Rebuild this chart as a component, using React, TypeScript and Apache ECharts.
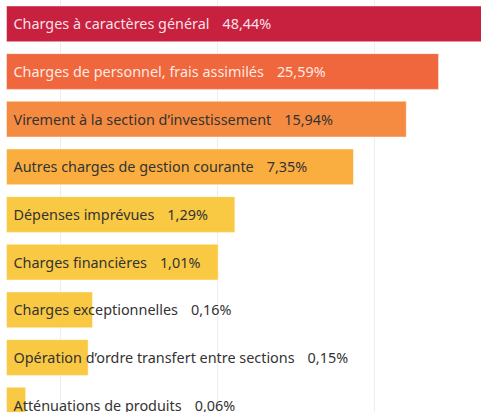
import React, { useEffect, useRef } from "react";
import * as echarts from "echarts";

const categories = [
  "Charges à caractères général",
  "Charges de personnel, frais assimilés",
  "Virement à la section d’investissement",
  "Autres charges de gestion courante",
  "Dépenses imprévues",
  "Charges financières",
  "Charges exceptionnelles",
  "Opération d’ordre transfert entre sections",
  "Atténuations de produits",
];
const values = [48.44, 25.59, 15.94, 7.35, 1.29, 1.01, 0.16, 0.15, 0.06];
const barColors = [
  "#C8213F",
  "#F1673D",
  "#F58B41",
  "#FAAE40",
  "#FAC943",
  "#FAC943",
  "#FAC943",
  "#FAC943",
  "#FAC943",
];
const textColors = [
  "rgba(255,255,255,0.88)",
  "rgba(255,255,255,0.88)",
  "#333333",
  "#333333",
  "#333333",
  "#333333",
  "#333333",
  "#333333",
  "#333333",
];

const AXIS_MIN = 0.0453;
const AXIS_MAX = 50;

const fmt = (v: number) => v.toFixed(2).replace(".", ",") + "%";

export default function App() {
  const ref = useRef<HTMLDivElement>(null);
  useEffect(() => {
    if (!ref.current) return;
    const chart = echarts.init(ref.current, null, { renderer: "svg" });
    chart.setOption({
      animation: false,
      grid: {
        left: 6.5,
        top: 0,
        width: 477.7,
        height: 429,
        containLabel: false,
        outerBoundsMode: "none",
      },
      xAxis: {
        type: "log",
        logBase: 10,
        min: AXIS_MIN,
        max: AXIS_MAX,
        axisLabel: { show: false },
        axisLine: { show: false },
        axisTick: { show: false },
        splitLine: {
          show: true,
          showMinLine: false,
          showMaxLine: false,
          lineStyle: { color: "#EDEDED", width: 1 },
        },
      },
      yAxis: {
        type: "category",
        data: categories,
        inverse: true,
        show: false,
      },
      series: [
        {
          type: "custom",
          clip: false,
          encode: { x: 0, y: 1 },
          data: values.map((v, i) => [v, i]),
          renderItem: (params: any, api: any) => {
            const idx = params.dataIndex;
            const v = api.value(0);
            const c = api.value(1);
            const start = api.coord([AXIS_MIN, c]);
            const end = api.coord([v, c]);
            const h = api.size([0, 1])[1] * 0.75;
            return {
              type: "group",
              children: [
                {
                  type: "rect",
                  shape: {
                    x: start[0],
                    y: start[1] - h / 2,
                    width: end[0] - start[0],
                    height: h,
                  },
                  style: {
                    fill: barColors[idx],
                    stroke: "rgba(255,255,255,0.45)",
                    lineWidth: 1,
                  },
                },
                {
                  type: "text",
                  x: start[0] + 7,
                  y: start[1],
                  style: {
                    text: `{n|${categories[idx]}}{v|${fmt(values[idx])}}`,
                    verticalAlign: "middle",
                    align: "left",
                    rich: {
                      n: {
                        fontFamily: "Noto Sans",
                        fontSize: 14.4,
                        fill: textColors[idx],
                      },
                      v: {
                        fontFamily: "Noto Sans",
                        fontSize: 14.4,
                        fill: textColors[idx],
                        padding: [0, 0, 0, 13],
                      },
                    },
                  },
                },
              ],
            };
          },
        },
      ],
    });
    return () => chart.dispose();
  }, []);
  return (
    <div
      ref={ref}
      style={{ position: "absolute", left: 0, top: 0, width: 481, height: 412 }}
    />
  );
}
